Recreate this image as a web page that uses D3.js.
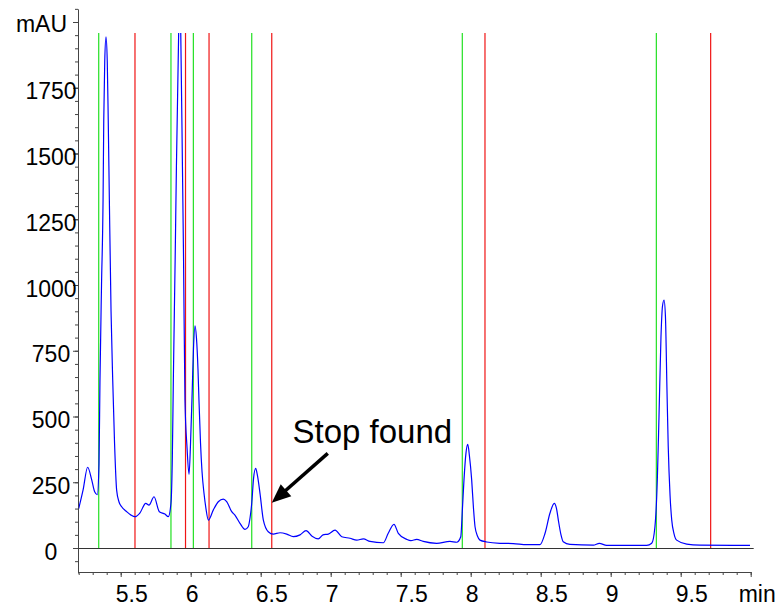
<!DOCTYPE html>
<html>
<head>
<meta charset="utf-8">
<script src="https://cdn.jsdelivr.net/npm/d3@7"></script>
<style>
  body { margin: 0; background: #fff; }
  svg { display: block; font-family: "Liberation Sans", Arial, sans-serif; }
</style>
</head>
<body>
<div id="chart"></div>
<script>
// Chromatogram trace: retention time (min) and signal (mAU)
const times = [
  5.200, 5.231, 5.264, 5.293, 5.314, 5.333, 5.345, 5.352, 5.363, 5.374,
  5.379, 5.386, 5.395, 5.404, 5.411, 5.419, 5.431, 5.443, 5.456, 5.471,
  5.488, 5.507, 5.543, 5.574, 5.602, 5.638, 5.679, 5.702, 5.738, 5.776,
  5.816, 5.840, 5.859, 5.869, 5.876, 5.889, 5.898, 5.914, 5.921, 5.929,
  5.941, 5.949, 5.959, 5.974, 5.988, 5.999, 6.011, 6.020, 6.031, 6.041,
  6.052, 6.059, 6.070, 6.081, 6.095, 6.109, 6.126, 6.161, 6.197, 6.233,
  6.257, 6.293, 6.316, 6.352, 6.388, 6.411, 6.424, 6.436, 6.449, 6.464,
  6.477, 6.495, 6.519, 6.554, 6.590, 6.638, 6.686, 6.733, 6.781, 6.824,
  6.867, 6.911, 6.945, 6.983, 7.031, 7.079, 7.138, 7.186, 7.233, 7.281,
  7.376, 7.411, 7.452, 7.483, 7.543, 7.573, 7.614, 7.661, 7.757, 7.852,
  7.900, 7.929, 7.941, 7.952, 7.966, 7.979, 7.991, 8.007, 8.020, 8.031,
  8.049, 8.066, 8.114, 8.209, 8.304, 8.402, 8.495, 8.531, 8.566, 8.597,
  8.613, 8.626, 8.645, 8.661, 8.709, 8.876, 8.919, 8.971, 9.257, 9.293,
  9.316, 9.333, 9.345, 9.359, 9.370, 9.381, 9.391, 9.402, 9.411, 9.424,
  9.436, 9.452, 9.471, 9.543, 9.638, 9.874, 9.995
];
const signal = [
  150, 220, 307, 259, 214, 203, 320, 639, 1000, 1323,
  1627, 1850, 1944, 1850, 1627, 1323, 900, 639, 400, 220,
  175, 157, 138, 125, 119, 134, 170, 163, 195, 138,
  129, 119, 170, 350, 639, 1100, 1450, 1958, 2150, 1958,
  1450, 1095, 563, 380, 280, 400, 600, 760, 845, 800,
  680, 563, 400, 290, 208, 150, 106, 144, 176, 186,
  176, 138, 125, 94, 71, 81, 115, 170, 265, 303,
  275, 208, 106, 62, 53, 58, 53, 43, 50, 66,
  45, 35, 50, 53, 68, 43, 37, 30, 35, 25,
  20, 56, 90, 56, 33, 28, 33, 25, 18, 25,
  22, 43, 150, 259, 360, 394, 350, 259, 150, 81,
  45, 30, 23, 18, 17, 13, 13, 56, 132, 170,
  150, 106, 50, 24, 14, 11, 18, 10, 10, 18,
  81, 259, 500, 800, 920, 943, 880, 600, 385, 200,
  106, 55, 30, 15, 11, 10, 10
];

// peak start (green) and stop (red) markers, min
const startMarks = [5.343, 5.859, 6.019, 6.436, 7.940, 9.326];
const stopMarks = [5.602, 5.963, 6.131, 6.579, 8.102, 9.714];

// axis ticks
const xMajor = [5.5, 6, 6.5, 7, 7.5, 8, 8.5, 9, 9.5, 10];
const xLabels = ["5.5", "6", "6.5", "7", "7.5", "8", "8.5", "9", "9.5", "min"];
const yMajor = [0, 250, 500, 750, 1000, 1250, 1500, 1750, 2000];
const yLabels = ["0", "250", "500", "750", "1000", "1250", "1500", "1750", "mAU"];

// annotation
const noteText = "Stop found";
const notePos = [6.727, 401];
const arrowTail = [6.979, 360];
const arrowTip = [6.579, 172];

const width = 781, height = 606;
const plotTop = 1958; // signal value where the plot is cut off

const x = d3.scaleLinear().domain([5.2, 10]).range([78.7, 750.7]);
const y = d3.scaleLinear().domain([-95, 2050]).range([573, 8.85]);

const svg = d3.select("#chart").append("svg")
  .attr("width", width)
  .attr("height", height);

svg.append("clipPath").attr("id", "plot")
  .append("rect")
  .attr("x", x(5.2))
  .attr("y", y(plotTop))
  .attr("width", x(10) - x(5.2) + 4)
  .attr("height", y(-95) - y(plotTop));

// minor ticks + axis lines
const xMinor = d3.range(52, 101).map(d => d / 10);
const yMinor = d3.range(-1, 42).map(d => d * 50);

svg.append("g")
  .attr("transform", "translate(78,0)")
  .call(d3.axisLeft(y).tickValues(yMinor).tickSize(3).tickSizeOuter(0).tickFormat(""))
  .call(g => g.selectAll("path,line").attr("stroke", "#444"));

svg.append("g")
  .attr("transform", "translate(0,572)")
  .call(d3.axisBottom(x).tickValues(xMinor).tickSize(3).tickSizeOuter(0).tickFormat(""))
  .call(g => g.selectAll("path,line").attr("stroke", "#444"));

// major ticks with labels
svg.append("g")
  .attr("transform", "translate(78,0)")
  .call(d3.axisLeft(y).tickValues(yMajor).tickSize(5).tickFormat((d, i) => yLabels[i]))
  .call(g => g.select(".domain").remove())
  .call(g => g.selectAll("line").attr("stroke", "#444"))
  .call(g => g.selectAll("text")
    .attr("font-size", 23)
    .attr("font-family", "Liberation Sans, Arial, sans-serif")
    .attr("fill", "#000")
    .attr("text-anchor", "middle")
    .attr("dy", null)
    .attr("x", (d, i) => i === yMajor.length - 1 ? -36.5 : -27)
    .attr("y", (d, i) => i === yMajor.length - 1 ? 9.7 : 11));

svg.append("g")
  .attr("transform", "translate(0,572)")
  .call(d3.axisBottom(x).tickValues(xMajor).tickSize(5).tickFormat((d, i) => xLabels[i]))
  .call(g => g.select(".domain").remove())
  .call(g => g.selectAll("line").attr("stroke", "#444"))
  .call(g => g.selectAll("text")
    .attr("font-size", 23)
    .attr("font-family", "Liberation Sans, Arial, sans-serif")
    .attr("fill", "#000")
    .attr("dy", null)
    .attr("y", 29.5)
    .attr("text-anchor", (d, i) => i === xMajor.length - 1 ? "middle" : "start")
    .attr("x", (d, i) => i === xMajor.length - 1 ? 6 : -5.5));

// zero baseline
svg.append("line")
  .attr("x1", x(5.2)).attr("x2", x(10) + 3)
  .attr("y1", Math.round(y(0)) + 0.5).attr("y2", Math.round(y(0)) + 0.5)
  .attr("stroke", "#333")
  .attr("stroke-width", 1);

// start / stop markers
const marks = startMarks.map(t => ({t, c: "#22e022"}))
  .concat(stopMarks.map(t => ({t, c: "#f01414"})));

svg.append("g").selectAll("line")
  .data(marks)
  .join("line")
  .attr("x1", d => x(d.t)).attr("x2", d => x(d.t))
  .attr("y1", y(0)).attr("y2", y(plotTop))
  .attr("stroke", d => d.c)
  .attr("stroke-width", 1.2);

// trace
const data = times.map((t, i) => [t, signal[i]]);
const line = d3.line()
  .x(d => x(d[0]))
  .y(d => y(d[1]))
  .curve(d3.curveMonotoneX);

svg.append("path")
  .datum(data)
  .attr("clip-path", "url(#plot)")
  .attr("d", line)
  .attr("fill", "none")
  .attr("stroke", "#0000ff")
  .attr("stroke-width", 1.2);

// annotation arrow
const tx = x(arrowTip[0]), ty = y(arrowTip[1]);
const sx = x(arrowTail[0]), sy = y(arrowTail[1]);
const len = Math.hypot(tx - sx, ty - sy);
const ux = (tx - sx) / len, uy = (ty - sy) / len;
const headLen = 19, headHalf = 8;
const bx = tx - ux * headLen, by = ty - uy * headLen;

svg.append("line")
  .attr("x1", sx).attr("y1", sy)
  .attr("x2", bx + ux * 2).attr("y2", by + uy * 2)
  .attr("stroke", "#000")
  .attr("stroke-width", 3.5);

svg.append("polygon")
  .attr("points", [
    [tx, ty],
    [bx - uy * headHalf, by + ux * headHalf],
    [bx + uy * headHalf, by - ux * headHalf]
  ].map(p => p.join(",")).join(" "))
  .attr("fill", "#000");

svg.append("text")
  .attr("x", x(notePos[0]))
  .attr("y", y(notePos[1]))
  .attr("font-size", 33)
  .attr("fill", "#000")
  .text(noteText);
</script>
</body>
</html>
